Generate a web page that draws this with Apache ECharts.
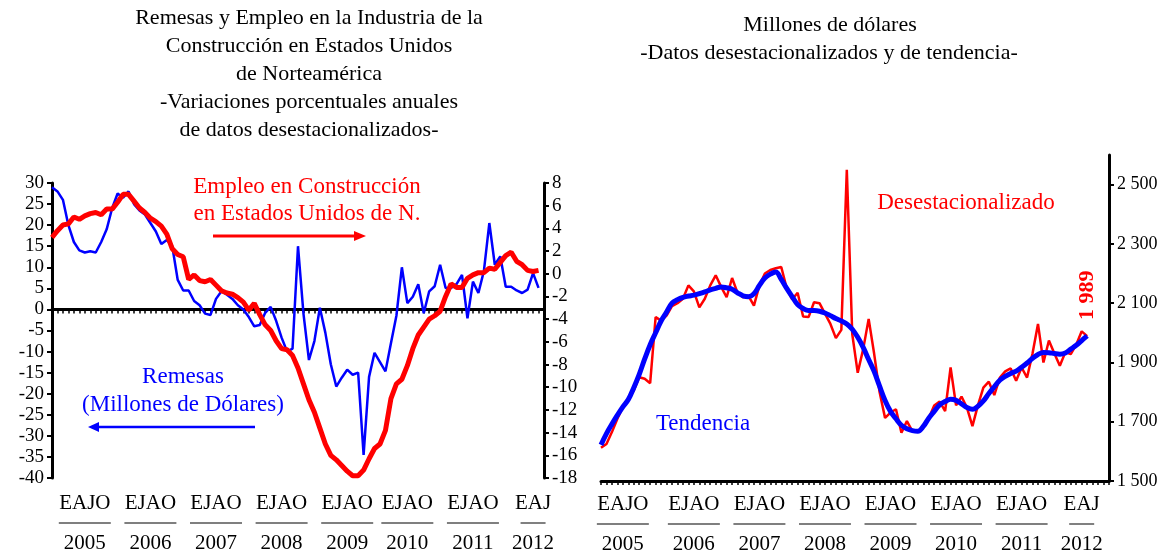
<!DOCTYPE html>
<html>
<head>
<meta charset="utf-8">
<script src="https://cdn.jsdelivr.net/npm/echarts@6/dist/echarts.min.js"></script>
<style>html,body{margin:0;padding:0;background:#fff}#c{width:1169px;height:557px}</style>
</head>
<body>
<div id="c"></div>
<script>
// ---- Data (monthly, Jan 2005 .. Jun 2012) ----
const remesasVar = [29,28,26,20,16,14,13.5,13.8,13.5,16,19,24,27.5,26.5,28,25,23.5,22.5,20.5,18.5,15.5,16.5,15,7,4.5,4.5,2,1,-1,-1.3,2.5,4.3,3.5,2.5,1,0,-1.8,-4,-3.7,-0.8,0.6,-2.7,-6.7,-10,-9.3,15,-1,-12,-7.5,0.4,-5.5,-13,-18.3,-16.2,-14.3,-15.5,-15,-34.5,-16,-10.3,-12.5,-14.7,-8,-1.5,10,1.5,3,6,-0.9,4.3,5.5,10.6,5.1,5.1,6,8.2,-2.1,6.6,3.9,9.1,20.5,10.6,12.6,5.4,5.4,4.5,3.9,4.7,8.6,5.1];
const empleoVar = [3.2,3.8,4.3,4.4,5.0,4.8,5.1,5.3,5.4,5.2,5.7,5.7,6.3,7.0,7.0,6.4,5.8,5.4,4.9,4.6,4.2,3.5,2.2,1.7,1.5,-0.5,-0.1,-0.6,-0.7,-0.5,-1.0,-1.5,-1.7,-1.8,-2.1,-2.5,-3.2,-2.6,-3.6,-4.5,-5.0,-5.9,-6.6,-6.7,-7.2,-8.3,-9.7,-11.1,-12.2,-13.6,-15.0,-16.0,-16.4,-16.9,-17.4,-17.8,-17.8,-17.3,-16.3,-15.4,-15.0,-13.8,-11.0,-9.7,-9.3,-8.1,-6.6,-5.4,-4.7,-4.0,-3.7,-3.3,-2.0,-0.9,-1.2,-1.2,-0.4,-0.1,0.1,0.1,0.5,0.4,1.0,1.6,1.9,1.1,0.8,0.3,0.2,0.3];
const remesasDesest = [1612,1625,1665,1710,1750,1778,1805,1850,1845,1830,2053,2041,2058,2090,2100,2115,2160,2140,2086,2115,2160,2194,2155,2120,2185,2135,2120,2125,2092,2160,2200,2212,2218,2222,2150,2113,2135,2055,2053,2103,2100,2065,2030,1982,2010,2550,1995,1865,1945,2047,1930,1800,1713,1731,1742,1663,1702,1668,1668,1680,1712,1755,1768,1736,1883,1755,1785,1747,1685,1755,1815,1835,1790,1848,1870,1880,1838,1883,1849,1930,2030,1900,1974,1930,1889,1934,1928,1960,2005,1989];
const remesasTend = [1622,1660,1692,1722,1750,1775,1815,1860,1912,1960,2000,2040,2070,2100,2112,2120,2124,2127,2132,2138,2145,2150,2155,2152,2147,2135,2125,2122,2132,2160,2185,2198,2205,2180,2150,2122,2095,2082,2075,2075,2073,2067,2058,2048,2040,2030,2012,1985,1951,1910,1870,1820,1772,1735,1710,1688,1676,1670,1668,1684,1712,1735,1757,1768,1776,1772,1760,1748,1742,1752,1770,1795,1818,1840,1853,1863,1871,1884,1898,1914,1927,1934,1933,1930,1928,1932,1945,1958,1974,1990];

// ---- Axis labels ----
const monthLabelsTop = ['EAJO','EJAO','EJAO','EJAO','EJAO','EJAO','EJAO','EAJ'];
const yearLabels = ['2005','2006','2007','2008','2009','2010','2011','2012'];
const leftLabelIdx = [6,18,30,42,54,65,77,88];
const rightLabelIdx = [4,17,29,41,53,65,77,88];
const rightTicksR = [1500,1700,1900,2100,2300,2500];

const allMonths = [];
for (let y = 2005; y <= 2012; y++) for (let m = 1; m <= 12; m++) allMonths.push(y + '-' + (m < 10 ? '0' + m : m));
const leftCats = allMonths.slice(0, 91);
const rightCats = allMonths.slice(0, 94);

const FONT = '"Liberation Serif", "Times New Roman", serif';
const thousands = v => String(v).replace(/\B(?=(\d{3})+(?!\d))/g, ' ');

function makeFmt(idxList) {
  return function (value, index) {
    const k = idxList.indexOf(index);
    if (k < 0) return '';
    const u = k === idxList.length - 1 ? 'us' : 'u';
    return '{a|' + monthLabelsTop[k] + '}\n{' + u + '|}\n{b|' + yearLabels[k] + '}';
  };
}
const rich = {
  a: {fontSize: 21, lineHeight: 20, color: '#000', fontFamily: FONT},
  u: {width: 52, height: 1, lineHeight: 20, backgroundColor: '#000'},
  us: {width: 25, height: 1, lineHeight: 20, backgroundColor: '#000'},
  b: {fontSize: 21, lineHeight: 20, color: '#000', fontFamily: FONT}
};

const desestData = remesasDesest.map((v, i) => i === remesasDesest.length - 1 ? {
  value: v,
  label: {show: true, position: 'top', distance: 16, rotate: 90, align: 'left', verticalAlign: 'middle',
    formatter: p => thousands(p.value),
    color: '#FF0000', fontWeight: 'bold', fontSize: 22, fontFamily: FONT}
} : v);

function txt(text, x, y, color, size) {
  return {type: 'text', x: x, y: y, silent: true, style: {text: text, fill: color, font: size + 'px ' + FONT,
    textAlign: 'center', textVerticalAlign: 'middle', align: 'center', verticalAlign: 'middle'}};
}

const chart = echarts.init(document.getElementById('c'), null, {renderer: 'canvas'});
chart.setOption({
  animation: false,
  backgroundColor: '#ffffff',
  textStyle: {fontFamily: FONT},
  grid: [
    {left: 52, top: 183, width: 492, height: 295},
    {left: 601, top: 155, width: 508, height: 326}
  ],
  xAxis: [
    {type: 'category', gridIndex: 0, data: leftCats, boundaryGap: false,
      axisLine: {onZero: true, onZeroAxisIndex: 0, lineStyle: {color: '#000', width: 3}},
      axisTick: {show: true, interval: 0, length: 4, lineStyle: {color: '#000', width: 1.5}},
      axisLabel: {show: false}, splitLine: {show: false}},
    {type: 'category', gridIndex: 0, data: leftCats, boundaryGap: false, position: 'bottom',
      axisLine: {show: false, onZero: false}, axisTick: {show: false}, splitLine: {show: false},
      axisLabel: {interval: 0, margin: 15, color: '#000', formatter: makeFmt(leftLabelIdx), rich: rich}},
    {type: 'category', gridIndex: 1, data: rightCats, boundaryGap: false,
      axisLine: {lineStyle: {color: '#000', width: 3}},
      axisTick: {show: true, interval: 0, length: 4, lineStyle: {color: '#000', width: 1.5}},
      splitLine: {show: false},
      axisLabel: {interval: 0, margin: 13, color: '#000', formatter: makeFmt(rightLabelIdx), rich: rich}}
  ],
  yAxis: [
    {type: 'value', gridIndex: 0, position: 'left', min: -40, max: 30, interval: 5,
      axisLine: {show: true, lineStyle: {color: '#000', width: 3}},
      axisTick: {show: true, length: 5, lineStyle: {color: '#000', width: 2}},
      axisLabel: {color: '#000', fontSize: 19, margin: 8, fontFamily: FONT},
      splitLine: {show: false}},
    {type: 'value', gridIndex: 0, position: 'right', min: -18, max: 8, interval: 2,
      axisLine: {show: true, lineStyle: {color: '#000', width: 3}},
      axisTick: {show: true, length: 5, lineStyle: {color: '#000', width: 2}},
      axisLabel: {color: '#000', fontSize: 19, margin: 8, fontFamily: FONT},
      splitLine: {show: false}},
    {type: 'value', gridIndex: 1, position: 'right', min: 1500, max: 2600,
      axisLine: {show: true, lineStyle: {color: '#000', width: 3}},
      axisTick: {show: true, length: 5, customValues: rightTicksR, lineStyle: {color: '#000', width: 2}},
      axisLabel: {color: '#000', fontSize: 18, margin: 8, fontFamily: FONT, customValues: rightTicksR,
        formatter: thousands},
      splitLine: {show: false}}
  ],
  series: [
    {name: 'Remesas', type: 'line', xAxisIndex: 0, yAxisIndex: 0, data: remesasVar, showSymbol: false,
      lineStyle: {color: '#0000FF', width: 2.5}, itemStyle: {color: '#0000FF'}, z: 2},
    {name: 'Empleo en Construcción', type: 'line', xAxisIndex: 0, yAxisIndex: 1, data: empleoVar, showSymbol: false,
      lineStyle: {color: '#FF0000', width: 5}, itemStyle: {color: '#FF0000'}, z: 3},
    {name: 'Desestacionalizado', type: 'line', xAxisIndex: 2, yAxisIndex: 2, data: desestData,
      showSymbol: true, symbol: 'circle', symbolSize: 0,
      lineStyle: {color: '#FF0000', width: 2.5}, itemStyle: {color: '#FF0000'}, z: 2},
    {name: 'Tendencia', type: 'line', xAxisIndex: 2, yAxisIndex: 2, data: remesasTend, showSymbol: false, smooth: 0.4,
      lineStyle: {color: '#0000FF', width: 5}, itemStyle: {color: '#0000FF'}, z: 3}
  ],
  graphic: {elements: [
    txt('Remesas y Empleo en la Industria de la', 309, 18, '#000', 22),
    txt('Construcción en Estados Unidos', 309, 46, '#000', 22),
    txt('de Norteamérica', 309, 74, '#000', 22),
    txt('-Variaciones porcentuales anuales', 309, 102, '#000', 22),
    txt('de datos desestacionalizados-', 309, 130, '#000', 22),
    txt('Millones de dólares', 830, 25, '#000', 22),
    txt('-Datos desestacionalizados y de tendencia-', 829, 53, '#000', 22),
    txt('Empleo en Construcción', 307, 187, '#FF0000', 23),
    txt('en Estados Unidos de N.', 307, 214, '#FF0000', 23),
    txt('Remesas', 183, 377, '#0000FF', 23),
    txt('(Millones de Dólares)', 183, 405, '#0000FF', 23),
    txt('Desestacionalizado', 966, 203, '#FF0000', 23),
    txt('Tendencia', 703, 424, '#0000FF', 23),
    {type: 'line', silent: true, shape: {x1: 213, y1: 236, x2: 356, y2: 236}, style: {stroke: '#FF0000', lineWidth: 3}},
    {type: 'polygon', silent: true, shape: {points: [[354, 231], [366, 236], [354, 241]]}, style: {fill: '#FF0000'}},
    {type: 'line', silent: true, shape: {x1: 255, y1: 427, x2: 97, y2: 427}, style: {stroke: '#0000FF', lineWidth: 2.5}},
    {type: 'polygon', silent: true, shape: {points: [[99, 422], [88, 427], [99, 432]]}, style: {fill: '#0000FF'}}
  ]}
});
</script>
</body>
</html>
